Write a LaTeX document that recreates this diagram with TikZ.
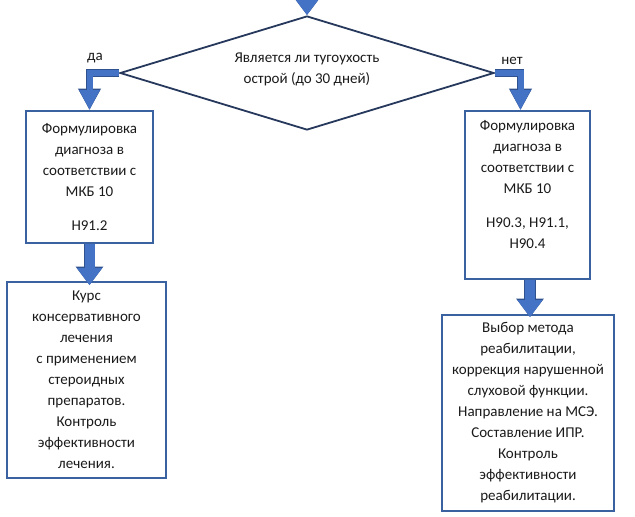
\documentclass[tikz,border=0pt]{standalone}
\usepackage{fontspec}
\setmainfont{Carlito}
\usetikzlibrary{arrows.meta,shapes.geometric}
\definecolor{boxblue}{HTML}{3A62A0}
\definecolor{diablue}{HTML}{26385C}
\definecolor{arrowfill}{HTML}{4472C4}
\definecolor{arrowedge}{HTML}{2F528F}
\definecolor{ink}{HTML}{1A1A1A}
\tikzset{
  x=1pt, y=-1pt,
  every node/.style={text=ink, font=\fontsize{15}{21}\selectfont},
  box/.style={draw=boxblue, line width=1.8pt, align=center, inner sep=0pt},
  decision/.style={diamond, draw=diablue, line width=1.8pt, inner sep=0pt,
    minimum width=374pt, minimum height=114pt},
  fatarrow/.style={arrowfill, line width=10pt,
    -{Triangle[width=24pt,length=17pt]},
    preaction={draw=arrowedge, line width=11.6pt, -{Triangle[width=26.5pt,length=18.5pt]}}},
  elbowarrow/.style={arrowfill, line width=6pt, line join=miter,
    -{Triangle[width=19pt,length=20pt]},
    preaction={draw=arrowedge, line width=7.4pt, line join=miter, -{Triangle[width=21.5pt,length=21.5pt]}}},
}
\begin{document}
\begin{tikzpicture}
\useasboundingbox (0,0) rectangle (635,517);

% decision
\node[decision] (dia) at (307,73) {};
\node[align=center] (q) at (307,69.5) {Является ли тугоухость\\острой (до 30 дней)};
\coordinate (in) at (307,0);

% diagnosis boxes
\node[box, minimum width=127pt, minimum height=132pt] (L1) at (89.5,177)
  {Формулировка\\диагноза в\\соответствии с\\МКБ 10\\[13pt]Н91.2};
\node[box, minimum width=125pt, minimum height=168pt] (R1) at (527.5,195)
  {Формулировка\\диагноза в\\соответствии с\\МКБ 10\\[13pt]Н90.3, Н91.1,\\Н90.4\\\mbox{}};

% treatment boxes
\node[box, minimum width=159pt, minimum height=196pt] (L2) at (86.5,380)
  {Курс\\консервативного\\лечения\\с применением\\стероидных\\препаратов.\\Контроль\\эффективности\\лечения.};
\node[box, minimum width=172pt, minimum height=196pt] (R2) at (528,413)
  {Выбор метода\\реабилитации,\\коррекция нарушенной\\слуховой функции.\\Направление на МСЭ.\\Составление ИПР.\\Контроль\\эффективности\\реабилитации.};

% branch labels
\node (yes) at (95,58) {да};
\node (no) at (512,61) {нет};

% connectors
\draw[fatarrow] (in) -- (dia.north);
\draw[elbowarrow] (dia.west) -| (L1.north);
\draw[elbowarrow] (dia.east) -| ([xshift=-7pt]R1.north);
\draw[fatarrow] (L1.south) -- ([yshift=-4pt]L1.south |- L2.north);
\draw[fatarrow] ([xshift=2.5pt]R1.south) -- ([xshift=2.5pt,yshift=-3pt]R1.south |- R2.north);
\end{tikzpicture}
\end{document}
